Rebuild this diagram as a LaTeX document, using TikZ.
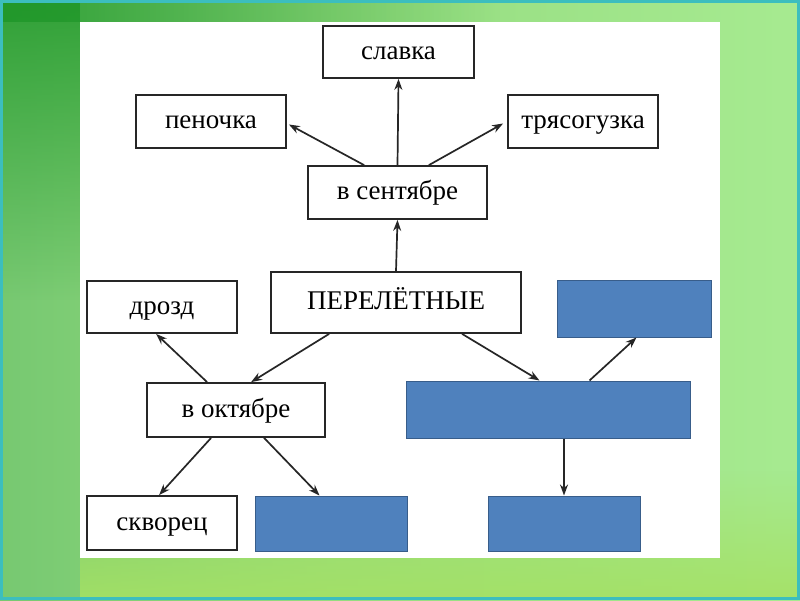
\documentclass[tikz,border=0pt]{standalone}
\usepackage{fontspec}
\setmainfont{Liberation Serif}
\usetikzlibrary{arrows.meta,calc,fadings}
\definecolor{bgdark}{RGB}{30,150,40}
\definecolor{bgmid}{RGB}{95,185,100}
\definecolor{bglight}{RGB}{178,242,152}
\definecolor{bglime}{RGB}{165,225,100}
\definecolor{edgeteal}{RGB}{60,190,190}
\definecolor{boxblue}{RGB}{79,129,189}
\definecolor{boxblueedge}{RGB}{56,93,138}
\pgfdeclarehorizontalshading{bgshade}{100bp}{
  rgb(0bp)=(0.30,0.66,0.36);
  rgb(10bp)=(0.38,0.73,0.40);
  rgb(45bp)=(0.58,0.86,0.50);
  rgb(90bp)=(0.69,0.95,0.60);
  rgb(100bp)=(0.70,0.95,0.60)}
\tikzset{
  wbox/.style={draw=black!85, line width=1.8pt, fill=white, inner sep=0pt,
    font=\fontsize{27}{30}\selectfont, text height=17pt, text depth=3pt},
  bbox/.style={draw=boxblueedge, line width=1pt, fill=boxblue, inner sep=0pt},
  arr/.style={draw=black!85, line width=1.7pt, -{Stealth[length=11pt,width=8pt]}}
}
\begin{document}
\begin{tikzpicture}[x=1pt,y=-1pt]
\useasboundingbox (0,0) rectangle (800,600);
% background
\shade[shading=bgshade] (0,0) rectangle (800,600);
\fill[bgdark, path fading=south, opacity=0.8] (0,0) rectangle (80,300);
\fill[bgdark, path fading=east, opacity=0.8] (0,0) rectangle (500,22);
\fill[bglime, path fading=north, opacity=0.9] (80,470) rectangle (800,600);
\draw[edgeteal, line width=3pt] (1.5,1.5) rectangle (798.5,598.5);
% white panel
\fill[white] (80,22) rectangle (720,558);
% nodes
\node[wbox, minimum width=151pt, minimum height=52pt] (slavka) at (398.5,52) {славка};
\node[wbox, minimum width=150pt, minimum height=53pt] (penochka) at (211,121.5) {пеночка};
\node[wbox, minimum width=150pt, minimum height=53pt] (tryas) at (583,121.5) {трясогузка};
\node[wbox, minimum width=179pt, minimum height=53pt] (sent) at (397.5,192.5) {в сентябре};
\node[wbox, minimum width=250pt, minimum height=61pt] (main) at (396,302.5) {ПЕРЕЛЁТНЫЕ};
\node[wbox, minimum width=150pt, minimum height=52pt] (drozd) at (162,307) {дрозд};
\node[bbox, minimum width=154pt, minimum height=57pt] (btr) at (634,308.5) {};
\node[wbox, minimum width=178pt, minimum height=54pt] (okt) at (236,410) {в октябре};
\node[bbox, minimum width=284pt, minimum height=57pt] (bbig) at (548,409.5) {};
\node[wbox, minimum width=150pt, minimum height=54pt] (skvor) at (162,523) {скворец};
\node[bbox, minimum width=152pt, minimum height=55pt] (bbl) at (331,523.5) {};
\node[bbox, minimum width=152pt, minimum height=55pt] (bbr) at (564,523.5) {};
% connector end points
\coordinate (s1) at ($(sent.north west)+(57,0)$);
\coordinate (s2) at ($(sent.north east)+(-59,0)$);
\coordinate (m1) at ($(main.south west)+(59,0)$);
\coordinate (m2) at ($(main.south west)+(192,0)$);
\coordinate (o1) at ($(okt.north west)+(61,0)$);
\coordinate (o2) at ($(okt.north west)+(105,0)$);
\coordinate (o3) at ($(okt.south west)+(65,0)$);
\coordinate (o4) at ($(okt.south west)+(118,0)$);
\coordinate (g1) at ($(bbig.north west)+(134,0)$);
\coordinate (g2) at ($(bbig.north west)+(184,0)$);
\coordinate (g3) at (bbig.south -| bbr.north);
\coordinate (d1) at ($(drozd.south west)+(70,0)$);
\coordinate (t1) at ($(btr.south west)+(80,0)$);
\coordinate (k1) at ($(skvor.north west)+(73,0)$);
\coordinate (l1) at ($(bbl.north west)+(65,0)$);
\coordinate (p1) at ($(penochka.east)+(2,3)$);
\coordinate (y1) at ($(tryas.west)+(-4,2)$);
% connectors
\draw[arr] (sent.north) -- (slavka.south);
\draw[arr] (s1) -- (p1);
\draw[arr] (s2) -- (y1);
\draw[arr] (main.north) -- (sent.south);
\draw[arr] (m1) -- (o2);
\draw[arr] (m2) -- (g1);
\draw[arr] (o1) -- (d1);
\draw[arr] (g2) -- (t1);
\draw[arr] (o3) -- (k1);
\draw[arr] (o4) -- (l1);
\draw[arr] (g3) -- (bbr.north);
\end{tikzpicture}
\end{document}
